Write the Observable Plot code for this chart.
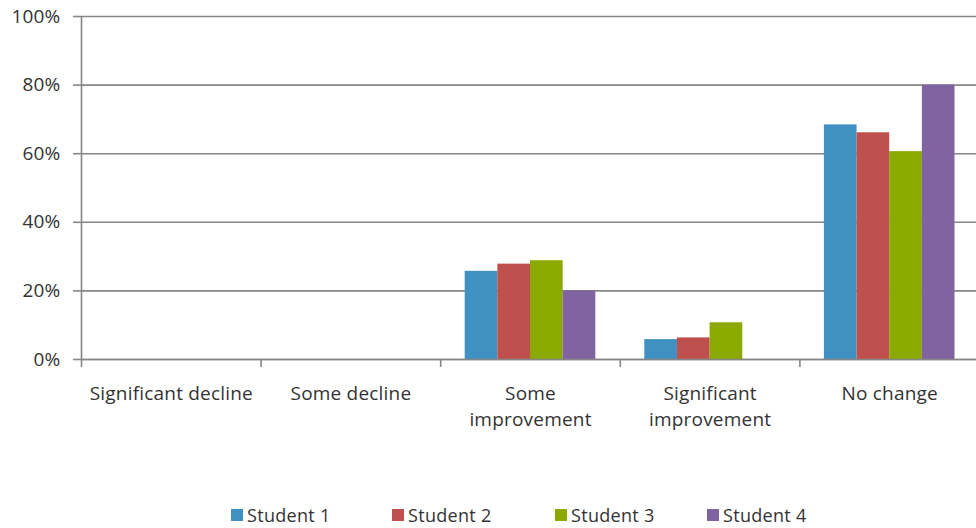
<!DOCTYPE html>
<html>
<head>
<meta charset="utf-8">
<script src="https://cdn.jsdelivr.net/npm/d3@7"></script>
<script src="https://cdn.jsdelivr.net/npm/@observablehq/plot@0.6"></script>
<style>
  html, body { margin: 0; padding: 0; background: #fff; }
  #chart { width: 976px; font-family: "Open Sans", sans-serif; color: #333; }
  #chart svg { font-family: "Open Sans", sans-serif; letter-spacing: 0.2px; }
  div.lg-swatches.lg-swatches-wrap {
    margin: 63px 0 0 0 !important;
    padding-left: 231px;
    min-height: 0 !important;
    font-family: "Open Sans", sans-serif !important;
    font-size: 18px !important;
    line-height: normal;
    letter-spacing: 0.3px;
    color: #333;
    flex-wrap: nowrap;
  }
  div.lg-swatches .lg-swatch {
    margin: 0 !important;
    flex: 0 0 auto;
    white-space: nowrap;
  }
  /* the legend's first child is its <style> element, so swatches start at 2 */
  div.lg-swatches .lg-swatch:nth-child(2) { width: 161px; }
  div.lg-swatches .lg-swatch:nth-child(3) { width: 163px; }
  div.lg-swatches .lg-swatch:nth-child(4) { width: 152px; }
  div.lg-swatches .lg-swatch > svg { margin-right: 4px !important; }
</style>
</head>
<body>
<div id="chart"></div>
<script>
// Outcome categories along the x axis (with wrapped display labels)
const categories = ["Significant decline", "Some decline", "Some improvement", "Significant improvement", "No change"];
const categoryLabels = ["Significant decline", "Some decline", "Some\nimprovement", "Significant\nimprovement", "No change"];

// Series: share of responses per category for each student
const students = ["Student 1", "Student 2", "Student 3", "Student 4"];
const student1 = [0, 0, 0.257, 0.058, 0.684];
const student2 = [0, 0, 0.278, 0.063, 0.661];
const student3 = [0, 0, 0.288, 0.107, 0.606];
const student4 = [0, 0, 0.20, 0, 0.80];
const seriesColors = ["#4190C2", "#C0504D", "#8BA900", "#8064A2"];

// Axis ticks
const yTicks = [0, 0.2, 0.4, 0.6, 0.8, 1];
const categoryBounds = [0, 1, 2, 3, 4, 5];

// Long table built from the arrays above
const seriesValues = [student1, student2, student3, student4];
const rows = [];
students.forEach((s, k) => {
  categories.forEach((c, i) => {
    rows.push({category: c, ci: i, student: s, k, value: seriesValues[k][i]});
  });
});

// Clustered layout: gap between groups is 1.5 bar widths
const gapWidth = 1.5;
const barUnit = 1 / (students.length + gapWidth);
const groupStart = (gapWidth / 2) * barUnit;

const gridColor = "#868686";

const plot = Plot.plot({
  width: 976,
  height: 440,
  marginTop: 16,
  marginBottom: 81,
  marginLeft: 81,
  marginRight: -3,
  style: {fontFamily: "Open Sans, sans-serif", fontSize: "19px", color: "#333", background: "#fff"},
  x: {type: "linear", domain: [0, categories.length], axis: null},
  y: {domain: [0, 1], axis: null},
  color: {domain: students, range: seriesColors},
  marks: [
    Plot.gridY(yTicks, {stroke: gridColor, strokeOpacity: 1, strokeWidth: 1.6}),
    Plot.rectY(rows, {
      x1: d => d.ci + groupStart + d.k * barUnit,
      x2: d => d.ci + groupStart + (d.k + 1) * barUnit,
      y: "value",
      fill: "student"
    }),
    Plot.ruleY([0], {stroke: gridColor, strokeWidth: 1.6}),
    Plot.ruleX([0], {stroke: gridColor, strokeWidth: 1.6}),
    Plot.axisY({
      ticks: yTicks,
      tickFormat: d3.format(".0%"),
      tickSize: 8,
      tickPadding: 13,
      stroke: gridColor,
      strokeWidth: 1.6,
      fill: "#333",
      fontSize: 19,
      label: null
    }),
    Plot.axisX({
      ticks: categoryBounds,
      tickSize: 8,
      tickFormat: () => "",
      stroke: gridColor,
      strokeWidth: 1.6,
      label: null
    }),
    Plot.text(categoryLabels, {
      x: (d, i) => i + 0.5,
      y: () => 0,
      text: d => d,
      lineAnchor: "top",
      lineHeight: 1.37,
      dy: 22,
      fontSize: 19,
      fill: "#333"
    })
  ]
});

const chart = document.getElementById("chart");
chart.appendChild(plot);
chart.appendChild(plot.legend("color", {swatchSize: 12, className: "lg"}));
</script>
</body>
</html>
